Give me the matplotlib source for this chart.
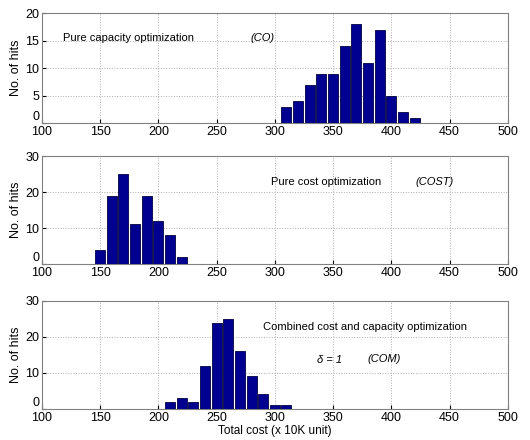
import numpy as np
import matplotlib
matplotlib.use("Agg")
import matplotlib.pyplot as plt

plt.rcParams['font.family'] = ['Liberation Sans', 'DejaVu Sans']

# histogram data (bin centres, counts)
co_x = [310, 320, 330, 340, 350, 360, 370, 380, 390, 400, 410, 420]
co_n = [3, 4, 7, 9, 9, 14, 18, 11, 17, 5, 2, 1]

cost_x = [150, 160, 170, 180, 190, 200, 210, 220]
cost_n = [4, 19, 25, 11, 19, 12, 8, 2]

com_x = [210, 220, 230, 240, 250, 260, 270, 280, 290, 300, 310]
com_n = [2, 3, 2, 12, 24, 25, 16, 9, 4, 1, 1]

xticks = [100, 150, 200, 250, 300, 350, 400, 450, 500]

fig = plt.figure(figsize=(5.3, 4.4), dpi=100)
ax1 = fig.add_axes([0.079, 0.720, 0.879, 0.250])
ax2 = fig.add_axes([0.079, 0.400, 0.879, 0.245])
ax3 = fig.add_axes([0.079, 0.071, 0.879, 0.245])

panels = [(ax1, co_x, co_n, 20, [0, 5, 10, 15, 20]),
          (ax2, cost_x, cost_n, 30, [0, 10, 20, 30]),
          (ax3, com_x, com_n, 30, [0, 10, 20, 30])]

for ax, x, n, ymax, yt in panels:
    ax.bar(x, n, width=8.6, color='#000090', edgecolor='#000040', linewidth=0.6, zorder=3)
    ax.set_xlim(100, 500)
    ax.set_ylim(0, ymax)
    ax.set_xticks(xticks)
    ax.set_yticks(yt)
    ax.grid(True, linestyle=':', color='#b0b0b0', linewidth=0.7, zorder=0)
    ax.tick_params(direction='in', labelsize=9, length=3)
    ax.tick_params(axis='x', pad=2)
    ax.tick_params(axis='y', pad=2)
    ax.set_ylabel('No. of hits', fontsize=9, labelpad=2)
    ax.get_yticklabels()[0].set_verticalalignment('bottom')
    for s in ax.spines.values():
        s.set_color('#808080')

ax1.text(118, 15.5, 'Pure capacity optimization', fontsize=8, va='center')
ax1.text(279, 15.5, '(CO)', fontsize=8, va='center', style='italic')

ax2.text(297, 22.8, 'Pure cost optimization', fontsize=8, va='center')
ax2.text(421, 22.8, '(COST)', fontsize=8, va='center', style='italic')

ax3.text(290, 22.8, 'Combined cost and capacity optimization', fontsize=8, va='center')
ax3.text(336, 13.6, 'δ = 1', fontsize=8, va='center', style='italic')
ax3.text(380, 13.8, '(COM)', fontsize=8, va='center', style='italic')
ax3.set_xlabel('Total cost (x 10K unit)', fontsize=8.5, labelpad=1)

fig.savefig('out.png', dpi=100)
